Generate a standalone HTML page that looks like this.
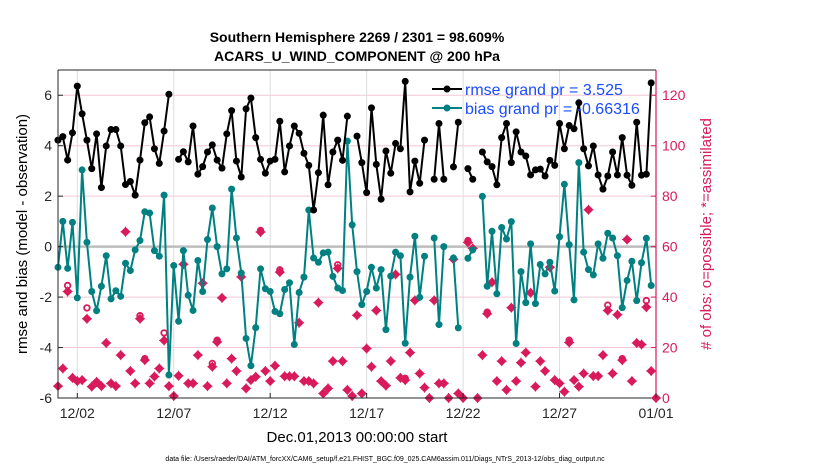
<!DOCTYPE html>
<html><head><meta charset="utf-8"><style>
body{margin:0;background:#fff;}
svg text{font-family:"Liberation Sans",Arial,sans-serif;}
</style></head><body>
<svg id="chart" width="830" height="470" xmlns="http://www.w3.org/2000/svg">
<rect width="830" height="470" fill="#fff"/>
<g id="grid"></g><g id="marks"></g><g id="axes"></g>
<text x="357" y="42" text-anchor="middle" font-size="14" font-weight="bold">Southern Hemisphere 2269 / 2301 = 98.609%</text>
<text x="357" y="61" text-anchor="middle" font-size="14" font-weight="bold">ACARS_U_WIND_COMPONENT @ 200 hPa</text>
<text x="357" y="442" text-anchor="middle" font-size="15">Dec.01,2013 00:00:00 start</text>
<text transform="translate(27,234) rotate(-90)" text-anchor="middle" font-size="15">rmse and bias (model - observation)</text>
<text transform="translate(711,234) rotate(-90)" text-anchor="middle" font-size="15" fill="#d81b5a"># of obs: o=possible; *=assimilated</text>
<text x="385" y="461" text-anchor="middle" font-size="7">data file: /Users/raeder/DAI/ATM_forcXX/CAM6_setup/f.e21.FHIST_BGC.f09_025.CAM6assim.011/Diags_NTrS_2013-12/obs_diag_output.nc</text>
<g>
<line x1="432" y1="89" x2="462" y2="89" stroke="#000" stroke-width="2"/><circle cx="447" cy="89" r="3.5" fill="#000"/>
<text x="465" y="95" font-size="16" fill="#1a4cff">rmse grand pr = 3.525</text>
<line x1="432" y1="108" x2="462" y2="108" stroke="#008080" stroke-width="2"/><circle cx="447" cy="108" r="3.5" fill="#008080"/>
<text x="465" y="114" font-size="16" fill="#1a4cff">bias grand pr = -0.66316</text>
</g>
</svg>
<script>
const rmse=[4.22,4.36,3.43,4.51,6.36,5.26,4.22,3.09,4.47,2.34,3.99,4.64,4.64,3.99,2.46,2.58,2.04,3.43,4.91,5.14,3.88,3.30,4.58,6.04,null,3.46,3.76,3.36,4.78,2.87,3.17,3.75,4.03,3.43,3.11,4.47,5.39,3.39,2.76,5.46,5.89,4.32,3.46,2.91,3.39,3.46,4.97,2.96,3.99,4.78,4.49,3.70,3.22,1.45,2.93,5.21,2.45,3.75,4.22,3.42,5.17,null,4.38,3.33,2.14,5.5,3.26,1.88,3.79,2.91,4.09,3.88,6.55,2.17,3.39,2.51,4.22,null,2.67,4.88,2.67,null,3.16,4.93,null,3.09,2.67,null,3.75,3.36,3.17,2.45,4.32,4.88,3.33,4.55,3.75,3.59,2.84,3.04,3.07,2.80,3.42,3.22,4.88,3.88,4.80,4.67,5.70,3.88,3.20,3.99,2.84,2.28,2.80,3.75,2.84,4.32,2.83,2.43,4.93,2.83,2.87,6.49,null];
const bias=[-0.82,1.0,-0.86,0.96,-2.03,3.04,0.17,-1.78,-2.54,-1.57,-0.36,-2.07,-1.75,-1.97,-0.66,-0.95,-0.13,0.24,1.38,1.33,-0.16,-0.38,2.04,-5.09,-0.75,-2.96,-0.16,-1.93,-2.53,-0.55,-1.78,0.28,1.53,0,-1.08,-0.88,2.28,0.34,-1.05,-3.64,-4.72,-3.21,-0.88,-1.67,-1.78,-2.57,-2.66,-1.70,-1.43,-3.88,-1.82,-1.21,1.45,-0.45,-0.62,-0.25,-0.22,-1.18,-1.64,-1.74,4.18,0.86,-0.99,-2.30,-1.78,-0.82,-1.64,-0.91,-3.29,-1.17,-0.22,-0.36,-3.83,-1.21,0.41,-2.01,-0.38,null,0.34,-3.09,0.0,null,-0.45,-3.22,null,-0.46,-0.13,null,1.99,-1.57,0.61,-1.87,0.76,0.30,0.99,-3.84,-0.99,-2.22,0.11,-2.26,-0.71,-1.08,-0.62,-1.76,0.39,2.47,0.08,-2.11,3.33,-0.22,-0.91,-1.12,0.11,-0.46,0.53,0.34,-0.36,-2.42,-1.34,-0.58,-2.14,-0.64,0.33,-1.54,null];
const assimilated=[4.7,11.7,42.2,8,6.7,7.1,31.4,4.5,6.4,4.7,21.8,5.8,4.7,17,65.9,10.7,5.8,31.4,15,5.8,8.5,11.7,22.8,4.7,0.8,8.8,53,5.8,5.8,17,45.5,4.7,12.4,22.2,39.7,5.8,15.6,10.7,48,3.8,7.1,8.4,65.8,10.7,6.7,12.8,49.9,8.6,8.6,8.6,29.8,6.7,6.7,5.8,37.8,1.8,3.8,14.6,51.4,14.6,3.2,0.8,32.8,1.8,19.6,12.4,34.7,6.7,4.9,14.6,49,8,7.1,18,38.7,9.7,4.1,0,38.7,5.8,5.8,0,55,1.8,0,61.7,59.3,0,17,33.4,45.9,6.7,14.6,3.2,35.8,6.7,14,18,41.7,4.5,14.6,10.7,51.8,7.1,5.8,2.5,22,7.1,4.5,9.7,74.6,8.7,8.7,17,34.7,9.7,33,15,62.8,6.7,21.8,21.2,36,10.7,0];
const possible=[4.7,11.7,44.6,8,6.7,7.1,35.7,4.5,6.4,4.7,21.8,5.8,4.7,17,65.9,10.7,5.8,32.6,15.6,5.8,8.5,11.7,25.8,4.7,0.8,8.8,53,5.8,5.8,17,45.5,4.7,13.7,22.9,39.7,5.8,15.6,10.7,48,3.8,7.1,8.4,66.4,10.7,6.7,12.8,50.8,8.6,8.6,8.6,29.8,6.7,6.7,5.8,37.8,1.8,3.8,14.6,52.8,14.6,3.2,0.8,32.8,1.8,19.6,12.4,34.7,6.7,4.9,14.6,49,8,7.8,18,38.7,9.7,4.1,0,38.7,5.8,5.8,0,55,1.8,0,62.4,59.3,0,17,34,45.9,6.7,14.6,3.2,35.8,6.7,14,18,41.7,4.5,14.6,10.7,51.8,7.1,5.8,2.5,22.9,7.1,4.5,9.7,74.6,8.7,8.7,17,36.8,9.7,33,15.6,62.8,6.7,21.8,21.2,38.6,10.7,0];
const xTickLabels=["12/02","12/07","12/12","12/17","12/22","12/27","01/01"];
const xTickDays=[1,6,11,16,21,26,31];
const leftTicks=[-6,-4,-2,0,2,4,6];
const rightTicks=[0,20,40,60,80,100,120];

const NS="http://www.w3.org/2000/svg";
const L=58,R=656,T=70,B=398;
const xDay=d=>L+(R-L)*d/31;
const xIdx=i=>xDay(i/4);
const yL=v=>B-(v+6)*(B-T)/13;
const yR=v=>B-v*(B-T)/130;
const PINK="#d81b5a";
function mk(tag,attrs,parent){const e=document.createElementNS(NS,tag);for(const k in attrs)e.setAttribute(k,attrs[k]);parent.appendChild(e);return e;}
const grid=document.getElementById('grid'),marks=document.getElementById('marks'),axes=document.getElementById('axes');

rightTicks.forEach(v=>{if(v===0)return;const l=mk('line',{x1:L,x2:R,y1:yR(v),y2:yR(v),stroke:"#f3c6d6","stroke-width":1},grid);

});
xTickDays.forEach(d=>{const l=mk('line',{x1:xDay(d),x2:xDay(d),y1:T,y2:B,stroke:"#ddd","stroke-width":1},grid);

});
const zl=mk('line',{x1:L,x2:R,y1:yL(0),y2:yL(0),stroke:"#bdbdbd","stroke-width":2.5},grid);



assimilated.forEach((v,i)=>{
  if(possible[i]!==v){const c=mk('circle',{cx:xIdx(i),cy:yR(possible[i]),r:2.8,fill:"none",stroke:PINK,"stroke-width":1.8},marks);
  
  }
  const x=xIdx(i),y=yR(v),s=4.2;
  const p=mk('path',{d:`M${x} ${y-s}L${x+s} ${y}L${x} ${y+s}L${x-s} ${y}Z M${x-s-0.8} ${y}H${x+s+0.8} M${x} ${y-s-0.8}V${y+s+0.8}`,fill:PINK,stroke:PINK,"stroke-width":1},marks);
  
  
});

function series(arr,color,name){
  let d="";let pen=false;
  arr.forEach((v,i)=>{if(v===null){pen=false;return;}d+=(pen?"L":"M")+xIdx(i).toFixed(1)+" "+yL(v).toFixed(1);pen=true;});
  const p=mk('path',{d:d,fill:"none",stroke:color,"stroke-width":2,"stroke-linejoin":"round"},marks);
  
  
  arr.forEach((v,i)=>{if(v===null)return;const c=mk('circle',{cx:xIdx(i),cy:yL(v),r:3.5,fill:color},marks);
  
  });
}
series(bias,"#008080","bias");
series(rmse,"#000","rmse");

const fr=mk('path',{d:`M${L} ${T}H${R} M${L} ${T}V${B}H${R}`,fill:"none",stroke:"#262626","stroke-width":1},axes);


const ra=mk('line',{x1:R,x2:R,y1:T,y2:B,stroke:PINK,"stroke-width":1.2},axes);


leftTicks.forEach(v=>{mk('line',{x1:L,x2:L+5,y1:yL(v),y2:yL(v),stroke:"#262626"},axes);
  const t=mk('text',{x:L-6,y:yL(v)+5,"text-anchor":"end","font-size":14,fill:"#262626"},axes);t.textContent=v;
  
  });
rightTicks.forEach(v=>{mk('line',{x1:R-5,x2:R,y1:yR(v),y2:yR(v),stroke:PINK},axes);
  const t=mk('text',{x:R+6,y:yR(v)+5,"font-size":14,fill:PINK},axes);t.textContent=v;
  
  });
xTickDays.forEach((d,k)=>{mk('line',{x1:xDay(d),x2:xDay(d),y1:B,y2:B-5,stroke:"#262626"},axes);
  const t=mk('text',{x:xDay(d),y:B+20,"text-anchor":"middle","font-size":14,fill:"#262626"},axes);t.textContent=xTickLabels[k];
  
  });
</script>
</body></html>
